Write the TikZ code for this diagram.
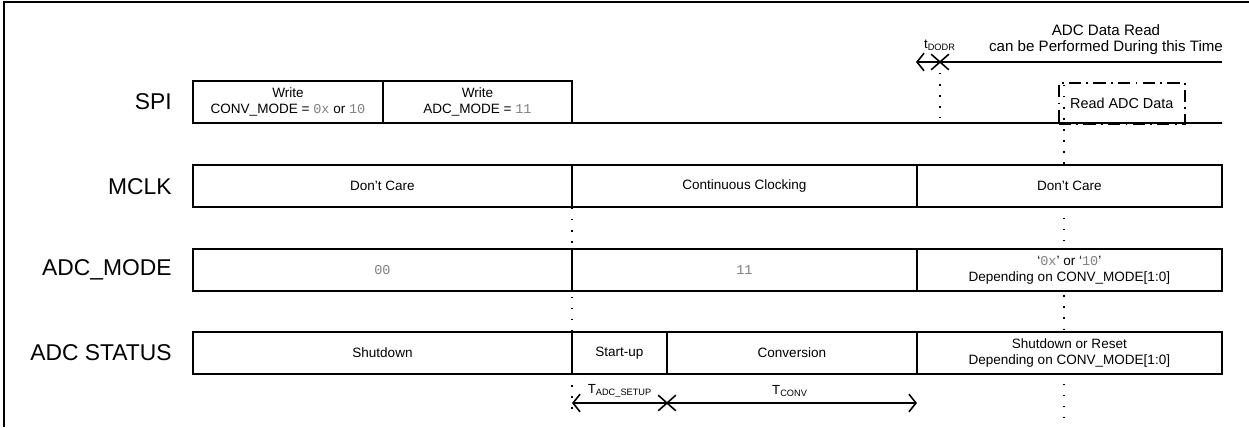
\documentclass[tikz,border=0pt]{standalone}
\usepackage{fontspec}
\setmainfont{Liberation Sans}
\newfontfamily\regmono{Liberation Mono}
\usetikzlibrary{shapes.misc, arrows.meta, positioning, calc}
\newcommand{\regval}[1]{{\regmono\color{gray}#1}}

\begin{document}
\begin{tikzpicture}[x=0.02cm, y=-0.02cm]
        \tikzstyle{cell} = [rectangle, draw=black, line width=0.9pt, fill=white, outer sep=0pt, minimum height=0.84cm, inner sep=1pt, anchor=north west, align=center, font=\fontsize{7.7}{9.2}\selectfont]
        \tikzstyle{sig} = [anchor=east, inner sep=0pt, font=\fontsize{13}{15}\selectfont]
        \tikzstyle{guide} = [line width=0.8pt, dash pattern=on 0.8pt off 5.5pt]
        \tikzstyle{xmark} = [cross out, draw=black, line width=0.9pt, minimum width=0.32cm, minimum height=0.28cm, inner sep=0pt]
        \tikzstyle{tarrow} = [line width=0.9pt, -{Straight Barb[length=4pt,width=10pt]}]
        \tikzstyle{note} = [inner sep=0pt, align=center, font=\fontsize{7.5}{9}\selectfont]

        \useasboundingbox (0,0) rectangle (1249,427);
        \draw[line width=1.7pt] (4,427) -- (4,2) -- (1249,2);

        % guides behind the rows
        \coordinate (rdmark) at (1064,85);
        \coordinate (rdend) at (1064,420);
        \coordinate (setupmark) at (572,208);
        \coordinate (setupend) at (572,415);
        \draw[guide] (rdmark) -- (rdend);
        \draw[guide] (setupmark) -- (setupend);

        % signal names
        \node (spi) [sig] at (172,102) {SPI};
        \node (mclk) [sig] at (172,187) {MCLK};
        \node (mode) [sig] at (172,270) {ADC\_MODE};
        \node (stat) [sig] at (172,353) {ADC STATUS};

        % SPI
        \node (rdbox) [rectangle, draw=black, line width=0.9pt, dash pattern=on 7pt off 3pt on 1pt off 3pt, minimum width=2.52cm, minimum height=0.82cm, anchor=north west, font=\fontsize{8.2}{9.5}\selectfont] at (1058,82) {Read ADC Data};
        \node (spiA) [cell, minimum width=3.8cm] at (193,81) {Write\\CONV\_MODE = \regval{0x} or \regval{10}};
        \node (spiB) [cell, minimum width=3.78cm, right=0pt of spiA] {Write\\ADC\_MODE = \regval{11}};
        \coordinate (spiend) at (1222,123);
        \draw[line width=0.9pt] (spiB.south east) -- (spiend);

        % MCLK
        \node (mclkA) [cell, minimum width=7.58cm] at (193,165) {Don’t Care};
        \node (mclkB) [cell, minimum width=6.9cm, right=0pt of mclkA] {Continuous Clocking};
        \node (mclkC) [cell, minimum width=6.1cm, right=0pt of mclkB] {Don’t Care};

        % ADC_MODE
        \node (modeA) [cell, minimum width=7.58cm] at (193,249) {\regval{00}};
        \node (modeB) [cell, minimum width=6.9cm, right=0pt of modeA] {\regval{11}};
        \node (modeC) [cell, minimum width=6.1cm, right=0pt of modeB] {‘\regval{0x}’ or ‘\regval{10}’\\Depending on CONV\_MODE[1:0]};

        % ADC STATUS
        \node (statA) [cell, minimum width=7.58cm] at (193,332) {Shutdown};
        \node (statB) [cell, minimum width=1.9cm, right=0pt of statA] {Start-up};
        \node (statC) [cell, minimum width=5.0cm, right=0pt of statB] {Conversion};
        \node (statD) [cell, minimum width=6.1cm, right=0pt of statC] {Shutdown or Reset\\Depending on CONV\_MODE[1:0]};

        % read window
        \node (xdodr) [xmark] at (940,62) {};
        \coordinate (dodrtip) at (916,62);
        \coordinate (readend) at (1222,62);
        \coordinate (dodrend) at (940,118);
        \draw[tarrow] (xdodr.center) -- (dodrtip);
        \draw[line width=0.9pt] (xdodr.center) -- (readend);
        \draw[guide] (xdodr.center) -- (dodrend);
        \node (tdodr) [note] at (940,45) {t\textsubscript{DODR}};
        \node (readtxt) [note, anchor=south, font=\fontsize{8.6}{9}\selectfont] at (1106,55) {ADC Data Read\\can be Performed During this Time};

        % conversion timing
        \node (xsetup) [xmark] at (667,403) {};
        \coordinate (setuptip) at (572,403);
        \coordinate (convtip) at (917,403);
        \draw[tarrow] (xsetup.center) -- (setuptip);
        \draw[tarrow] (xsetup.center) -- (convtip);
        \node (tsetup) [note] at (620,391) {T\textsubscript{ADC\_SETUP}};
        \node (tconv) [note] at (790,391) {T\textsubscript{CONV}};
\end{tikzpicture}
\end{document}
